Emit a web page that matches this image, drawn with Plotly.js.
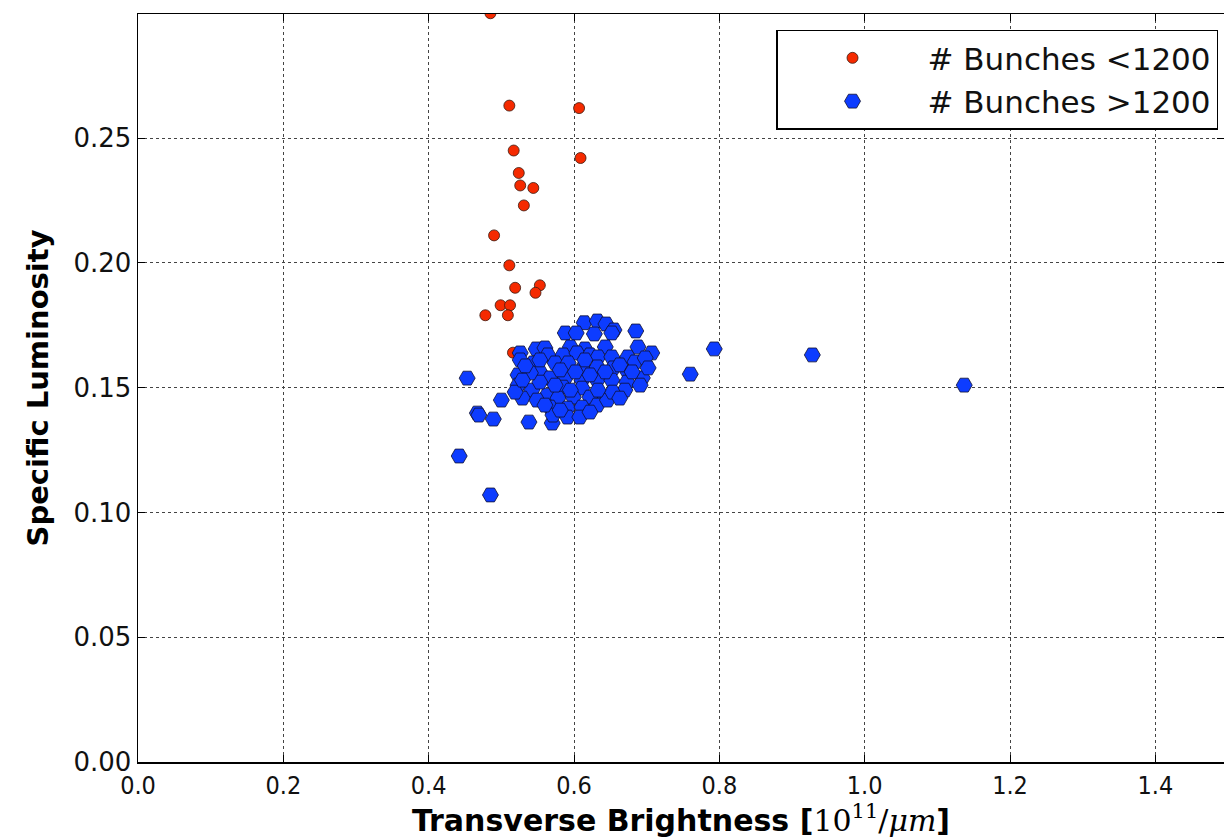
<!DOCTYPE html>
<html>
<head>
<meta charset="utf-8">
<script src="https://cdn.plot.ly/plotly-3.0.1.min.js"></script>
<style>html,body{margin:0;padding:0;background:#fff;}#chart{width:1224px;height:839px;}</style>
</head>
<body>
<div id="chart"></div>
<script>
// Series: # Bunches < 1200 (red circles)
var lowX = [0.485, 0.511, 0.607, 0.517, 0.609, 0.524, 0.526, 0.544, 0.531, 0.490, 0.511, 0.519, 0.553, 0.547, 0.499, 0.512, 0.478, 0.509, 0.516];
var lowY = [0.300, 0.263, 0.262, 0.245, 0.242, 0.236, 0.231, 0.230, 0.223, 0.211, 0.199, 0.190, 0.191, 0.188, 0.183, 0.183, 0.179, 0.179, 0.164];

// Series: # Bunches > 1200 (blue hexagons)
var highX = [0.614, 0.632, 0.644, 0.655, 0.652, 0.588, 0.603, 0.628, 0.685, 0.595,
             0.615, 0.643, 0.688, 0.707, 0.548, 0.560, 0.526, 0.564, 0.585, 0.604,
             0.622, 0.633, 0.652, 0.674, 0.526, 0.544, 0.574, 0.592, 0.613, 0.632,
             0.654, 0.674, 0.553, 0.567, 0.588, 0.611, 0.632, 0.652, 0.673, 0.694,
             0.691, 0.523, 0.523, 0.585, 0.611, 0.542, 0.563, 0.578, 0.599, 0.622,
             0.643, 0.500, 0.529, 0.549, 0.567, 0.591, 0.611, 0.632, 0.646, 0.538,
             0.570, 0.591, 0.608, 0.571, 0.453, 0.442, 0.485, 0.467, 0.469, 0.489,
             0.760, 0.793, 0.928, 1.137, 0.553, 0.581, 0.602, 0.622, 0.643, 0.663,
             0.684, 0.698, 0.670, 0.653, 0.633, 0.574, 0.553, 0.540, 0.533, 0.595,
             0.615, 0.702, 0.680, 0.519, 0.529, 0.560, 0.663, 0.622, 0.581];
var highY = [0.1760, 0.1767, 0.1755, 0.1731, 0.1719, 0.1719, 0.1719, 0.1715, 0.1727, 0.1663,
             0.1655, 0.1663, 0.1663, 0.1639, 0.1655, 0.1659, 0.1639, 0.1631, 0.1631, 0.1639,
             0.1631, 0.1623, 0.1623, 0.1623, 0.1611, 0.1599, 0.1599, 0.1599, 0.1583, 0.1583,
             0.1579, 0.1563, 0.1563, 0.1539, 0.1539, 0.1530, 0.1530, 0.1530, 0.1522, 0.1539,
             0.1510, 0.1551, 0.1510, 0.1502, 0.1498, 0.1490, 0.1470, 0.1458, 0.1462, 0.1462,
             0.1462, 0.1450, 0.1458, 0.1450, 0.1422, 0.1418, 0.1422, 0.1430, 0.1450, 0.1362,
             0.1358, 0.1382, 0.1382, 0.1390, 0.1538, 0.1226, 0.1070, 0.1398, 0.1390, 0.1374,
             0.1554, 0.1655, 0.1631, 0.1510, 0.1611, 0.1571, 0.1563, 0.1551, 0.1563, 0.1591,
             0.1603, 0.1619, 0.1490, 0.1482, 0.1490, 0.1510, 0.1522, 0.1559, 0.1587, 0.1490,
             0.1611, 0.1579, 0.1563, 0.1482, 0.1530, 0.1430, 0.1458, 0.1402, 0.1410];

var seriesNames = ['# Bunches <1200', '# Bunches >1200'];
var xTickVals = [0, 0.2, 0.4, 0.6, 0.8, 1.0, 1.2, 1.4];
var xTickText = ['0.0', '0.2', '0.4', '0.6', '0.8', '1.0', '1.2', '1.4'];
var yTickVals = [0, 0.05, 0.10, 0.15, 0.20, 0.25];
var yTickText = ['0.00', '0.05', '0.10', '0.15', '0.20', '0.25'];

var traces = [
  {
    x: lowX, y: lowY, type: 'scatter', mode: 'markers', name: seriesNames[0],
    cliponaxis: true,
    marker: {symbol: 'circle', size: 11, color: '#f52a00', line: {color: '#3a1a10', width: 0.8}}
  },
  {
    x: highX, y: highY, type: 'scatter', mode: 'markers', name: seriesNames[1],
    cliponaxis: true,
    marker: {symbol: 'hexagon2', size: 16, color: '#0d3cff', line: {color: '#101030', width: 0.8}}
  }
];

var axisCommon = {
  showline: true, linecolor: '#000', linewidth: 1.5, mirror: 'ticks',
  ticks: 'inside', ticklen: 7, tickwidth: 1, tickcolor: '#000',
  showgrid: true, gridcolor: '#444', griddash: 'dot', gridwidth: 1,
  zeroline: false
};

var layout = {
  width: 1224, height: 839,
  paper_bgcolor: '#fff', plot_bgcolor: '#fff',
  margin: {l: 138, r: 0, t: 14, b: 77},
  showlegend: true,
  legend: {
    x: 0.9945, y: 0.979, xanchor: 'right', yanchor: 'top',
    bgcolor: '#fff', bordercolor: '#000', borderwidth: 1.5,
    font: {family: 'DejaVu Sans, sans-serif', size: 31, color: '#111'},
    itemsizing: 'trace', itemwidth: 140, tracegroupgap: 0
  },
  xaxis: Object.assign({}, axisCommon, {
    range: [0, 1.4945], tickvals: xTickVals, ticktext: xTickText,
    tickfont: {family: 'DejaVu Sans Condensed, DejaVu Sans, sans-serif', size: 25, color: '#111'},
    title: {
      text: '<b>Transverse Brightness [</b><span style="font-family:DejaVu Serif, serif;font-weight:normal">10<sup>11</sup>/<i>μm</i></span><b>]</b>',
      font: {family: 'DejaVu Sans, sans-serif', size: 30, color: '#000'},
      standoff: 4
    }
  }),
  yaxis: Object.assign({}, axisCommon, {
    range: [0, 0.2997], tickvals: yTickVals, ticktext: yTickText,
    tickfont: {family: 'DejaVu Sans, sans-serif', size: 26, color: '#111'},
    title: {
      text: '<b>Specific Luminosity</b>',
      font: {family: 'DejaVu Sans, sans-serif', size: 29, color: '#000'},
      standoff: 16
    }
  })
};

Plotly.newPlot('chart', traces, layout, {displayModeBar: false, staticPlot: true});
</script>
</body>
</html>
